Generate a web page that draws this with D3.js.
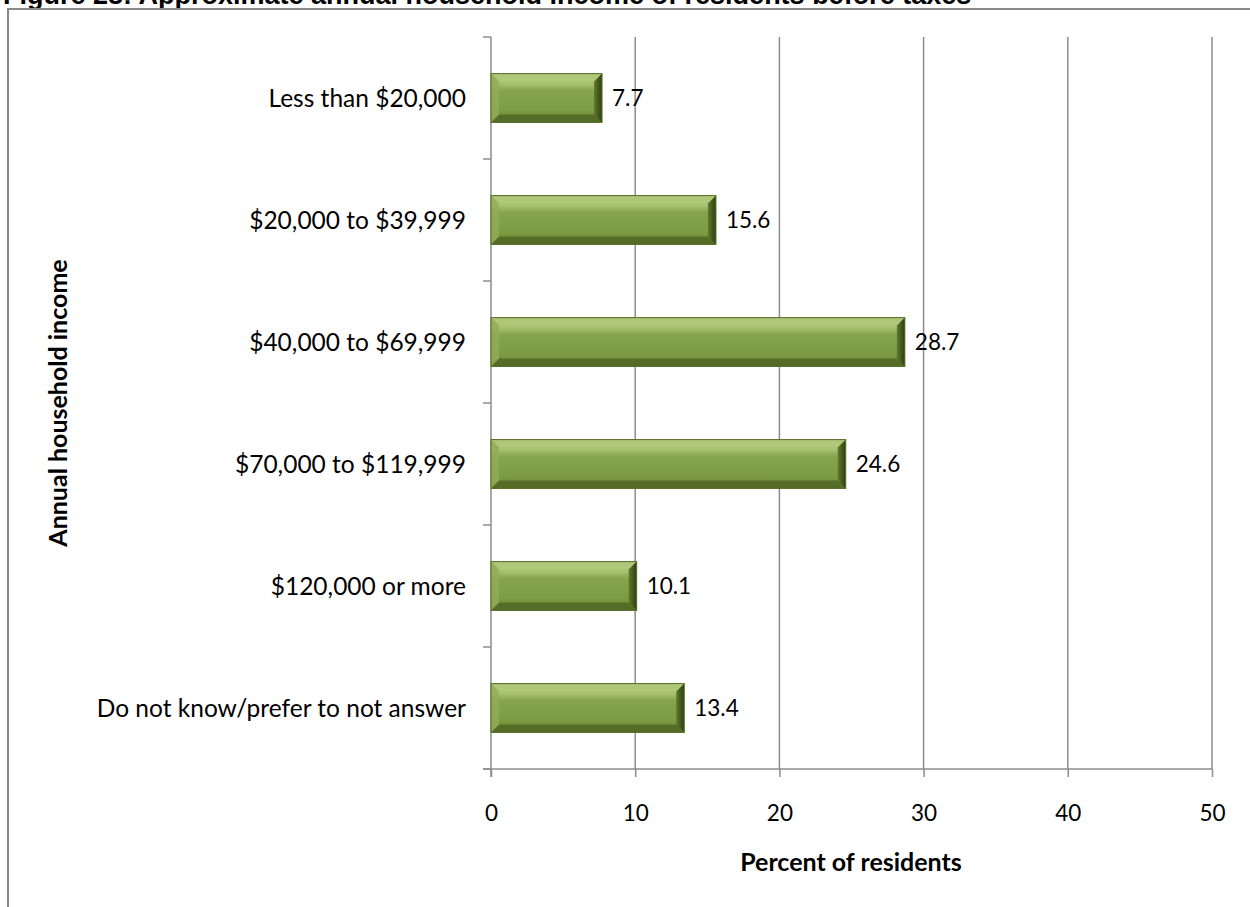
<!DOCTYPE html>
<html>
<head>
<meta charset="utf-8">
<script src="https://cdn.jsdelivr.net/npm/d3@7"></script>
<style>
  body { margin: 0; background: #fff; }
  text { font-family: Lato, "Open Sans", sans-serif; fill: #000; }
</style>
</head>
<body>
<svg width="1250" height="907"></svg>
<script>
const categories = ["Less than $20,000", "$20,000 to $39,999", "$40,000 to $69,999",
                    "$70,000 to $119,999", "$120,000 or more", "Do not know/prefer to not answer"];
const percents = [7.7, 15.6, 28.7, 24.6, 10.1, 13.4];
const xTicks = [0, 10, 20, 30, 40, 50];

const data = categories.map((c, i) => ({ name: c, value: percents[i] }));

const svg = d3.select("svg");
const plotLeft = 491, plotRight = 1212, plotTop = 37, plotBottom = 769;

const x = d3.scaleLinear().domain([0, 50]).range([plotLeft, plotRight]);
const y = d3.scaleBand().domain(categories).range([plotTop, plotBottom]).paddingInner(0.6).paddingOuter(0.3);

// title (clipped at top like the original)
svg.append("text")
    .attr("x", 3).attr("y", 4)
    .style("font-family", "'Liberation Sans', Arial, sans-serif")
    .style("font-weight", "bold")
    .style("font-size", "27px")
    .text("Figure 28: Approximate annual household income of residents before taxes");

// chart frame
svg.append("rect")
    .attr("x", 8).attr("y", 9)
    .attr("width", 1300).attr("height", 1000)
    .attr("fill", "none").attr("stroke", "#888").attr("stroke-width", 2);

// gradients
const defs = svg.append("defs");
const gMain = defs.append("linearGradient").attr("id", "barMain").attr("x1", 0).attr("y1", 0).attr("x2", 0).attr("y2", 1);
[["0%", "#9cb862"], ["20%", "#a9c372"], ["35%", "#86a44b"], ["75%", "#7d9b42"], ["100%", "#6a8535"]]
    .forEach(s => gMain.append("stop").attr("offset", s[0]).attr("stop-color", s[1]));
const gEnd = defs.append("linearGradient").attr("id", "barEnd").attr("x1", 0).attr("y1", 0).attr("x2", 1).attr("y2", 0);
[["0%", "#5f7a2c"], ["100%", "#2f3d12"]]
    .forEach(s => gEnd.append("stop").attr("offset", s[0]).attr("stop-color", s[1]));

// gridlines
svg.append("g")
    .selectAll("line")
    .data(xTicks.slice(1))
    .enter().append("line")
    .attr("x1", d => x(d)).attr("x2", d => x(d))
    .attr("y1", plotTop).attr("y2", plotBottom)
    .attr("stroke", "#8c8c8c").attr("stroke-width", 1.5);

// x axis
const xAxis = svg.append("g")
    .attr("transform", "translate(0," + plotBottom + ")")
    .call(d3.axisBottom(x).tickValues(xTicks).tickSize(8).tickPadding(28).tickSizeOuter(0));
xAxis.select(".domain").attr("stroke", "#8c8c8c").attr("stroke-width", 1.5).attr("d", "M" + (plotLeft - 8) + ",0H" + plotRight);
xAxis.selectAll(".tick line").attr("stroke", "#8c8c8c").attr("stroke-width", 1.5);
xAxis.selectAll(".tick text").style("font-size", "22.5px").style("font-family", "Lato, sans-serif");

// y axis: ticks at band boundaries
const yAxis = svg.append("g").attr("transform", "translate(" + plotLeft + ",0)");
yAxis.append("line").attr("x1", 0).attr("x2", 0).attr("y1", plotTop).attr("y2", plotBottom + 8)
    .attr("stroke", "#8c8c8c").attr("stroke-width", 1.5);
const step = (plotBottom - plotTop) / categories.length;
yAxis.selectAll(".ytick")
    .data(d3.range(categories.length + 1))
    .enter().append("line")
    .attr("x1", -8).attr("x2", 0)
    .attr("y1", i => plotTop + i * step).attr("y2", i => plotTop + i * step)
    .attr("stroke", "#8c8c8c").attr("stroke-width", 1.5);
yAxis.selectAll(".ylab")
    .data(categories)
    .enter().append("text")
    .attr("x", -25)
    .attr("y", d => y(d) + y.bandwidth() / 2)
    .attr("dy", "0.35em")
    .attr("text-anchor", "end")
    .style("font-size", "24.5px")
    .text(d => d);

// bars
const bev = 8;
const bars = svg.append("g").selectAll(".bar").data(data).enter().append("g").attr("class", "bar");
bars.append("rect")
    .attr("x", x(0))
    .attr("y", d => y(d.name))
    .attr("width", d => x(d.value) - x(0))
    .attr("height", y.bandwidth())
    .attr("fill", "url(#barMain)");
// top bevel highlight
bars.append("path")
    .attr("d", d => {
        const x0 = x(0), x1 = x(d.value), y0 = y(d.name);
        return `M${x0},${y0}L${x1},${y0}L${x1 - bev},${y0 + bev}L${x0 + bev},${y0 + bev}Z`;
    })
    .attr("fill", "#b4cc80").attr("opacity", 0.7);
// bottom bevel shadow
bars.append("path")
    .attr("d", d => {
        const x0 = x(0), x1 = x(d.value), y1 = y(d.name) + y.bandwidth();
        return `M${x0},${y1}L${x1},${y1}L${x1 - bev},${y1 - bev}L${x0 + bev},${y1 - bev}Z`;
    })
    .attr("fill", "#4d6422").attr("opacity", 0.8);
// left bevel
bars.append("path")
    .attr("d", d => {
        const x0 = x(0), y0 = y(d.name), y1 = y0 + y.bandwidth();
        return `M${x0},${y0}L${x0 + bev},${y0 + bev}L${x0 + bev},${y1 - bev}L${x0},${y1}Z`;
    })
    .attr("fill", "#8fae55").attr("opacity", 0.8);
// right end bevel
bars.append("path")
    .attr("d", d => {
        const x1 = x(d.value), y0 = y(d.name), y1 = y0 + y.bandwidth();
        return `M${x1},${y0}L${x1 - bev},${y0 + bev}L${x1 - bev},${y1 - bev}L${x1},${y1}Z`;
    })
    .attr("fill", "url(#barEnd)");
bars.append("rect")
    .attr("x", x(0))
    .attr("y", d => y(d.name))
    .attr("width", d => x(d.value) - x(0))
    .attr("height", y.bandwidth())
    .attr("fill", "none").attr("stroke", "#556d28").attr("stroke-width", 1);

// value labels
svg.append("g").selectAll("text")
    .data(data)
    .enter().append("text")
    .attr("x", d => x(d.value) + 10)
    .attr("y", d => y(d.name) + y.bandwidth() / 2)
    .attr("dy", "0.35em")
    .style("font-size", "22.5px")
    .text(d => d.value.toFixed(1));

// axis titles
svg.append("text")
    .attr("x", 851).attr("y", 871)
    .attr("text-anchor", "middle")
    .style("font-size", "25px").style("font-weight", "bold")
    .text("Percent of residents");

svg.append("text")
    .attr("transform", "translate(67,403) rotate(-90)")
    .attr("text-anchor", "middle")
    .style("font-size", "25px").style("font-weight", "bold")
    .text("Annual household income");
</script>
</body>
</html>
